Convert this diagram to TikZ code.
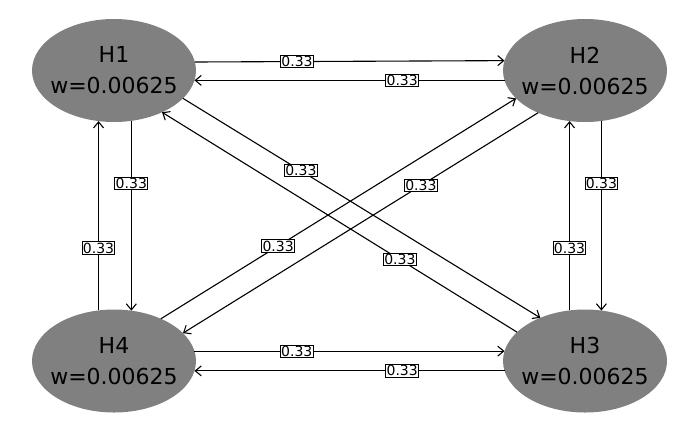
\documentclass[tikz,border=0pt]{standalone}
\usepackage{fontspec}
\setmainfont{DejaVu Sans}
\usetikzlibrary{arrows.meta,shapes.geometric}

\begin{document}
\begin{tikzpicture}[x=1pt, y=-1pt,
      hyp/.style={ellipse, fill=gray, minimum width=164pt, minimum height=103pt, inner xsep=-6pt, inner ysep=0pt, outer sep=0pt, align=center, font=\fontsize{22}{31}\selectfont},
      edge/.style={-{Straight Barb[length=6pt,width=10pt]}, line width=1.1pt},
      wt/.style={pos=0.33, draw, fill=white, line width=0.9pt, inner sep=0.8pt, font=\fontsize{14}{14}\selectfont}
    ]
      \useasboundingbox (0,0) rectangle (700,432);

      % Hypotheses
      \node[hyp] (h1) at (114,70.5) {H1\\w=0.00625};
      \node[hyp] (h2) at (585,70.5) {H2\\w=0.00625};
      \node[hyp] (h3) at (585,361) {H3\\w=0.00625};
      \node[hyp] (h4) at (114,361) {H4\\w=0.00625};

      % Horizontal edges
      \draw[edge] (h1.6.6) -- (h2.173.4) node[wt] {0.33};
      \draw[edge] (h2.187.3) -- (h1.-7.3) node[wt] {0.33};
      \draw[edge] (h4.7) -- (h3.173) node[wt] {0.33};
      \draw[edge] (h3.187) -- (h4.-7) node[wt] {0.33};

      % Vertical edges
      \draw[edge] (h1.-71.7) -- (h4.71.7) node[wt] {0.33};
      \draw[edge] (h4.107.4) -- (h1.-107.4) node[wt] {0.33};
      \draw[edge] (h2.-72.6) -- (h3.72.6) node[wt] {0.33};
      \draw[edge] (h3.107.4) -- (h2.-107.4) node[wt] {0.33};

      % Diagonal edges
      \draw[edge] (h1.-22.4) -- (h3.136.3) node[wt] {0.33};
      \draw[edge] (h3.157.9) -- (h1.-41.4) node[wt] {0.33};
      \draw[edge] (h2.222.1) -- (h4.22.8) node[wt] {0.33};
      \draw[edge] (h4.42.5) -- (h2.202.4) node[wt] {0.33};
\end{tikzpicture}
\end{document}
